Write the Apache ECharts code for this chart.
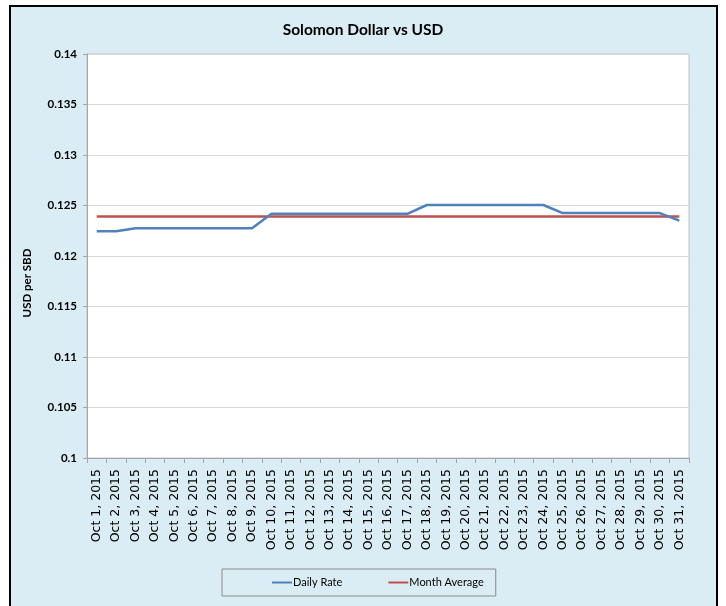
<!DOCTYPE html>
<html><head><meta charset="utf-8">
<script src="https://cdn.jsdelivr.net/npm/echarts@6/dist/echarts.min.js"></script>
<style>html,body{margin:0;padding:0;background:#fff;}#c{width:726px;height:606px;}</style>
</head><body><div id="c"></div>
<script>
const categories = ["Oct 1, 2015","Oct 2, 2015","Oct 3, 2015","Oct 4, 2015","Oct 5, 2015","Oct 6, 2015","Oct 7, 2015","Oct 8, 2015","Oct 9, 2015","Oct 10, 2015","Oct 11, 2015","Oct 12, 2015","Oct 13, 2015","Oct 14, 2015","Oct 15, 2015","Oct 16, 2015","Oct 17, 2015","Oct 18, 2015","Oct 19, 2015","Oct 20, 2015","Oct 21, 2015","Oct 22, 2015","Oct 23, 2015","Oct 24, 2015","Oct 25, 2015","Oct 26, 2015","Oct 27, 2015","Oct 28, 2015","Oct 29, 2015","Oct 30, 2015","Oct 31, 2015"];
const dailyRate = [0.12245,0.12245,0.12275,0.12275,0.12275,0.12275,0.12275,0.12275,0.12275,0.12418,0.12418,0.12418,0.12418,0.12418,0.12418,0.12418,0.12418,0.12505,0.12505,0.12505,0.12505,0.12505,0.12505,0.12505,0.12425,0.12425,0.12425,0.12425,0.12425,0.12425,0.1235];
const monthAverage = [0.1239,0.1239,0.1239,0.1239,0.1239,0.1239,0.1239,0.1239,0.1239,0.1239,0.1239,0.1239,0.1239,0.1239,0.1239,0.1239,0.1239,0.1239,0.1239,0.1239,0.1239,0.1239,0.1239,0.1239,0.1239,0.1239,0.1239,0.1239,0.1239,0.1239,0.1239];
const yMin = 0.1, yMax = 0.14, yStep = 0.005;
const titleText = "Solomon Dollar vs USD";
const yName = "USD per SBD";

const chart = echarts.init(document.getElementById('c'), null, {renderer:'canvas'});
chart.setOption({
  animation: false,
  backgroundColor: '#fff',
  graphic: [
    {type:'rect', z:-10, shape:{x:10,y:6,width:707,height:610}, style:{fill:'#dbedf4', stroke:'#000', lineWidth:2}},
    {type:'text', x:27, y:283, rotation:Math.PI/2, style:{text:yName, font:'bold 11.5px Lato', fill:'#000', align:'center', verticalAlign:'middle'}}
  ],
  title: {text:titleText, left:'center', top:17, textStyle:{fontFamily:'Lato', fontWeight:'bold', fontSize:15.5, color:'#000'}},
  grid: {left:87, right:37, top:54, bottom:148, show:true, backgroundColor:'#fff', borderColor:'#c0c0c0', borderWidth:1, containLabel:false},
  legend: {
    left:222, top:569, orient:'horizontal',
    borderColor:'#8a8a8a', borderWidth:1, padding:[8,12,8,50], itemGap:46,
    itemWidth:20, itemHeight:2, icon:'rect',
    textStyle:{fontFamily:'Lato', fontSize:11, color:'#000', padding:[0,0,0,-4]},
    data:['Daily Rate','Month Average']
  },
  xAxis: {
    type:'category', data:categories, boundaryGap:true,
    axisLine:{lineStyle:{color:'#a6a6a6'}},
    axisTick:{show:true, length:5, interval:0, lineStyle:{color:'#a6a6a6'}},
    axisLabel:{interval:0, rotate:90, margin:11, fontFamily:'DejaVu Sans', fontSize:12.5, color:'#000'}
  },
  yAxis: {
    type:'value', min:yMin, max:yMax, interval:yStep,
    axisLine:{show:true, lineStyle:{color:'#a6a6a6'}},
    axisTick:{show:true, length:4, lineStyle:{color:'#a6a6a6'}},
    splitLine:{lineStyle:{color:'#d9d9d9'}},
    axisLabel:{margin:10, fontFamily:'Lato', fontWeight:'bold', fontSize:11.5, color:'#000',
      formatter: v => String(parseFloat(v.toFixed(3)))}
  },
  series: [
    {name:'Daily Rate', type:'line', data:dailyRate, showSymbol:false, symbol:'none', lineStyle:{color:'#4f81bd', width:2.5}, itemStyle:{color:'#4f81bd'}, z:3},
    {name:'Month Average', type:'line', data:monthAverage, showSymbol:false, symbol:'none', lineStyle:{color:'#c0504d', width:2.5}, itemStyle:{color:'#c0504d'}, z:2}
  ]
});
</script></body></html>
